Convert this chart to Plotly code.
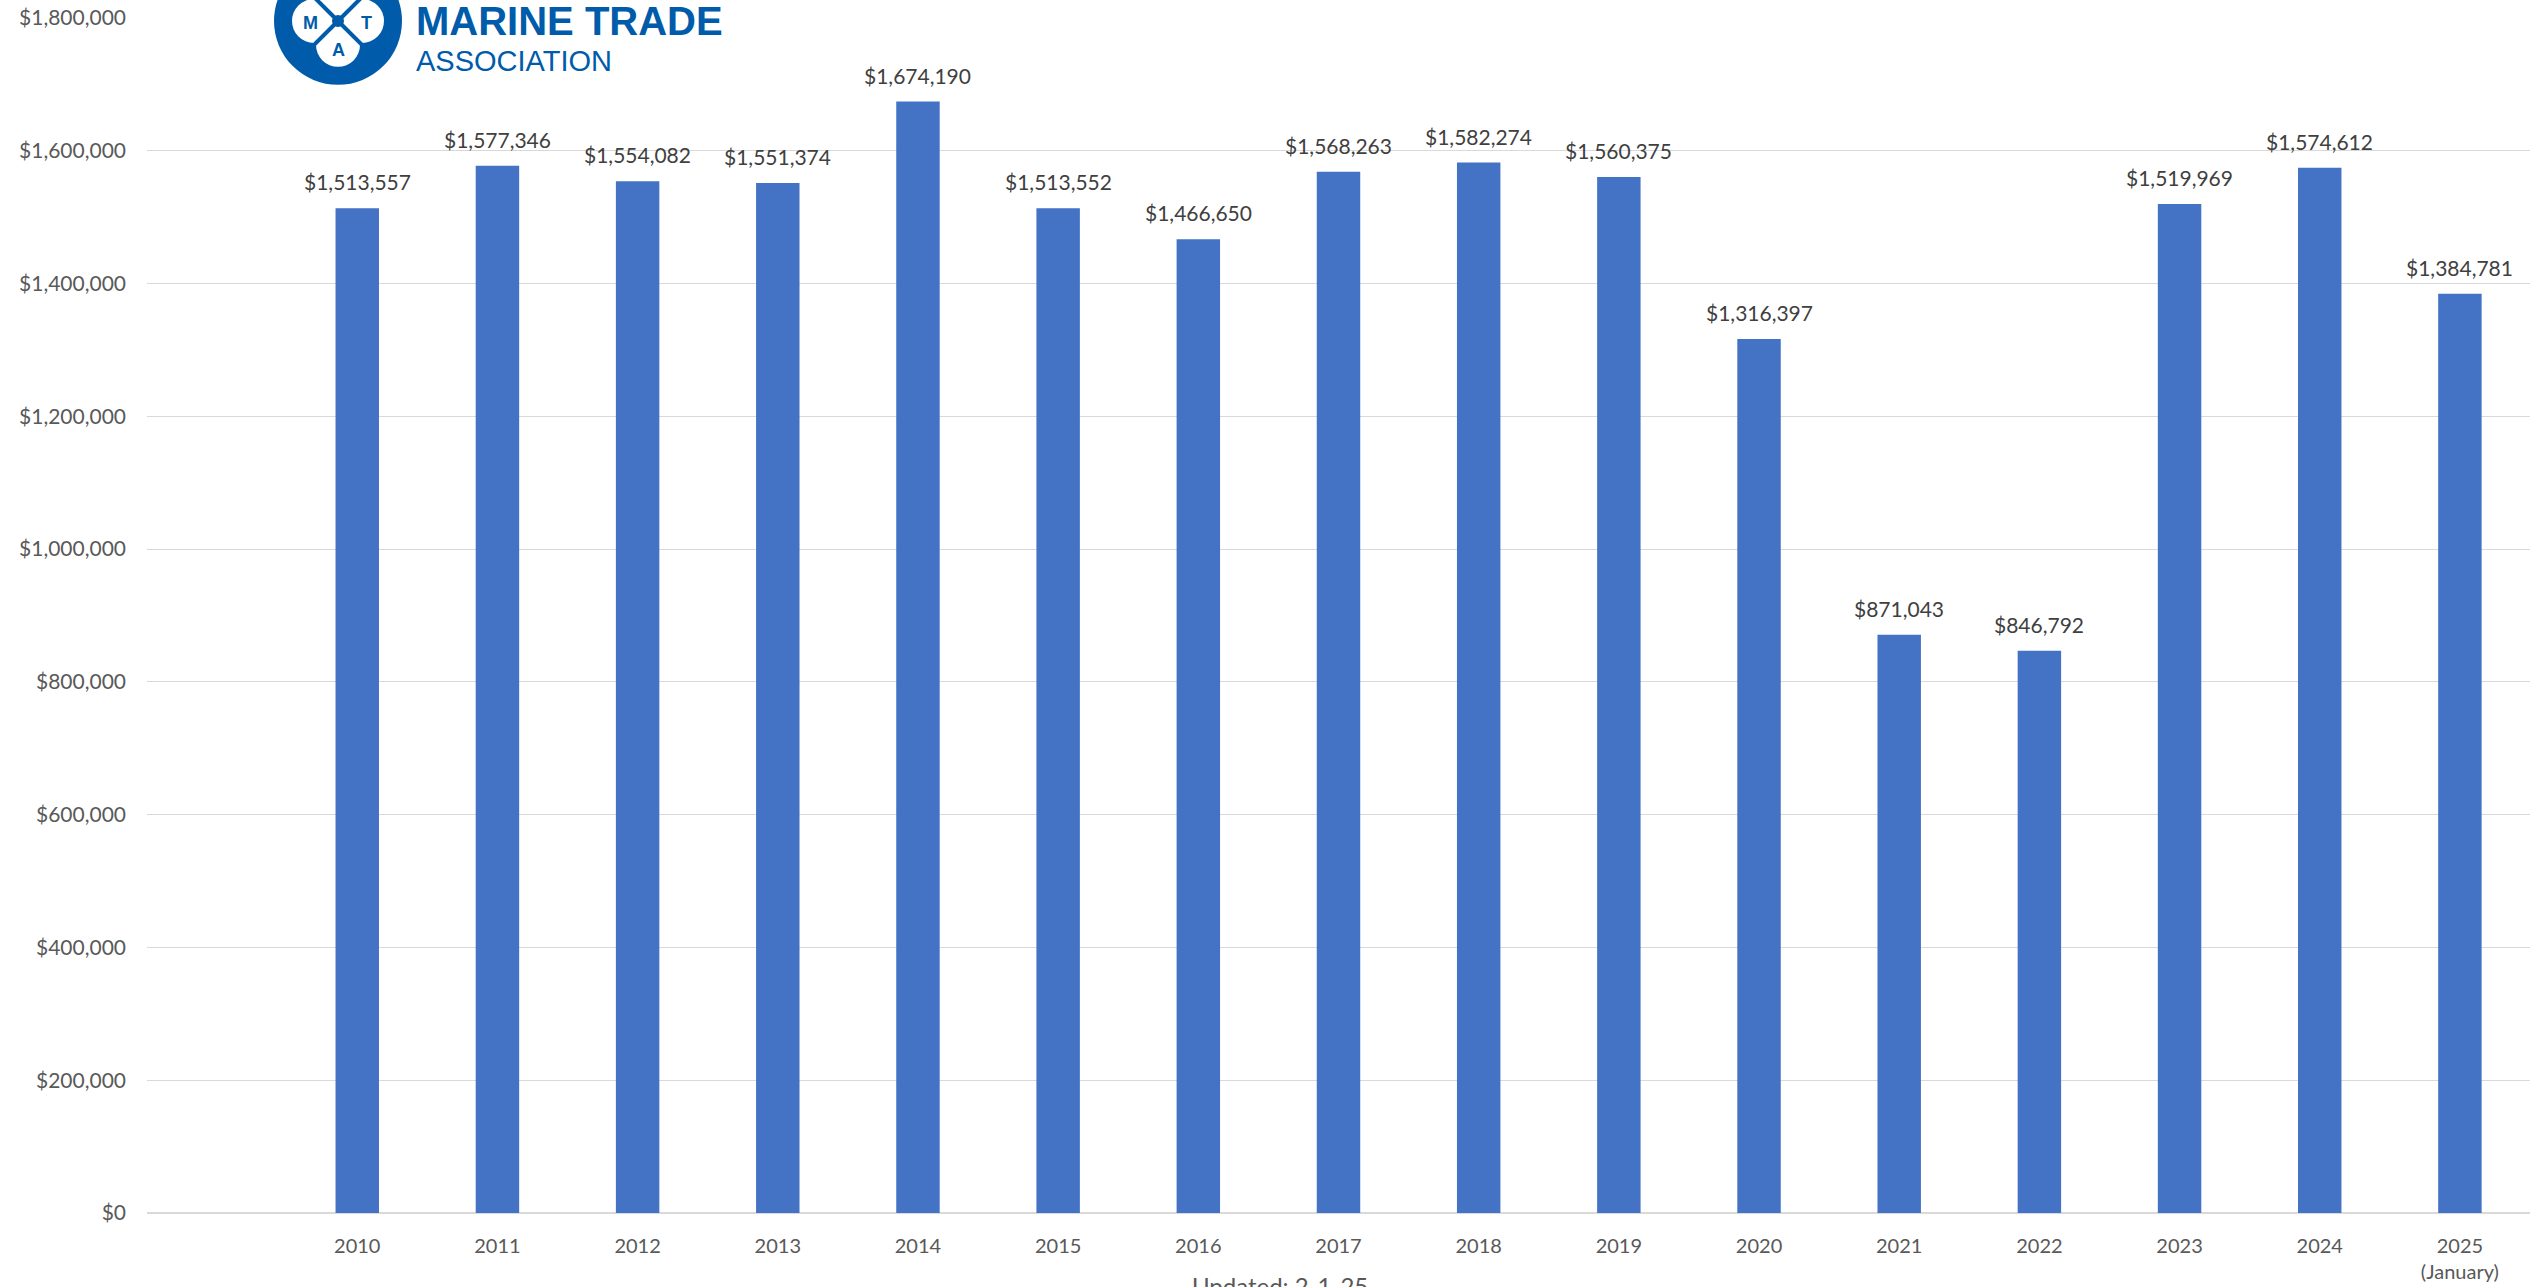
import plotly.graph_objects as go

# ---- data ----
years = [2010, 2011, 2012, 2013, 2014, 2015, 2016, 2017, 2018, 2019,
         2020, 2021, 2022, 2023, 2024, 2025]
year_labels = ["2010", "2011", "2012", "2013", "2014", "2015", "2016", "2017",
               "2018", "2019", "2020", "2021", "2022", "2023", "2024",
               "2025<br>(January)"]
values = [1513557, 1577346, 1554082, 1551374, 1674190, 1513552, 1466650,
          1568263, 1582274, 1560375, 1316397, 871043, 846792, 1519969,
          1574612, 1384781]
y_ticks = [0, 200000, 400000, 600000, 800000, 1000000, 1200000, 1400000,
           1600000, 1800000]
y_tick_labels = [f"${v:,}" for v in y_ticks]
updated_note = "Updated: 2-1-25"

# ---- layout geometry ----
W, H = 2534, 1287
ML, MR, MT, MB = 147, 4, 17, 71
PW, PH = W - ML - MR, H - MT - MB

def px(x):
    return (x - ML) / PW

def py(y):
    return (H - MB - y) / PH

FONT = "Lato, 'Open Sans', sans-serif"
BLUE = "#4472C4"
LOGO = "#005BAA"

fig = go.Figure()
fig.add_trace(go.Bar(
    x=years, y=values, width=0.31,
    marker=dict(color=BLUE, line=dict(width=0)),
    hoverinfo="skip", showlegend=False,
))

annotations = []
for yr, v in zip(years, values):
    annotations.append(dict(
        x=yr, y=v, xref="x", yref="y", text=f"${v:,}",
        showarrow=False, yanchor="bottom", yshift=12,
        font=dict(family=FONT, size=21, color="#404040"),
    ))

annotations.append(dict(
    x=px(1280), y=py(1272), xref="paper", yref="paper", text=updated_note,
    showarrow=False, xanchor="center", yanchor="top",
    font=dict(family=FONT, size=24, color="#595959"),
))

# logo text
annotations.append(dict(
    x=px(414), y=py(-4), xref="paper", yref="paper", text="<b>MARINE TRADE</b>",
    showarrow=False, xanchor="left", yanchor="top",
    font=dict(family="'Liberation Sans Narrow', 'Liberation Sans', Arial, sans-serif", size=40, color=LOGO),
))
annotations.append(dict(
    x=px(414), y=py(42), xref="paper", yref="paper", text="ASSOCIATION",
    showarrow=False, xanchor="left", yanchor="top",
    font=dict(family="'Liberation Sans Narrow', 'Liberation Sans', Arial, sans-serif", size=29, color=LOGO),
))
for letter, lx, ly in [("M", 310, 22), ("T", 366, 22), ("A", 338, 49)]:
    annotations.append(dict(
        x=px(lx), y=py(ly), xref="paper", yref="paper", text=f"<b>{letter}</b>",
        showarrow=False, xanchor="center", yanchor="middle",
        font=dict(family="'Liberation Sans', Arial, sans-serif", size=18, color=LOGO),
    ))

# logo icon shapes
cx, cy, R = 338, 20, 64
shapes = [dict(type="circle", xref="paper", yref="paper",
               x0=px(cx - R), x1=px(cx + R), y0=py(cy + R), y1=py(cy - R),
               fillcolor=LOGO, line=dict(width=0), layer="above")]
off, pr = 24, 22
for dx, dy in [(0, -off), (0, off), (-off, 0), (off, 0)]:
    shapes.append(dict(type="circle", xref="paper", yref="paper",
                       x0=px(cx + dx - pr), x1=px(cx + dx + pr),
                       y0=py(cy + dy + pr), y1=py(cy + dy - pr),
                       fillcolor="white", line=dict(width=0), layer="above"))
for sx, sy in [(1, 1), (1, -1), (-1, 1), (-1, -1)]:
    shapes.append(dict(type="line", xref="paper", yref="paper",
                       x0=px(cx), y0=py(cy), x1=px(cx + sx * 30), y1=py(cy + sy * 30),
                       line=dict(color=LOGO, width=4), layer="above"))
shapes.append(dict(type="circle", xref="paper", yref="paper",
                   x0=px(cx - 6), x1=px(cx + 6), y0=py(cy + 6), y1=py(cy - 6),
                   fillcolor=LOGO, line=dict(width=0), layer="above"))

fig.update_layout(
    width=W, height=H,
    margin=dict(l=ML, r=MR, t=MT, b=MB, pad=0),
    paper_bgcolor="white", plot_bgcolor="white",
    xaxis=dict(range=[2008.5, 2025.5], tickmode="array", tickvals=years,
               ticktext=year_labels, showgrid=False, zeroline=False,
               showline=False, ticks="", ticklabelstandoff=19,
               tickfont=dict(family=FONT, size=20, color="#595959"),
               fixedrange=True),
    yaxis=dict(range=[0, 1800000], tickmode="array", tickvals=y_ticks,
               ticktext=y_tick_labels, showgrid=True,
               gridcolor="#d9d9d9", gridwidth=1.3, zeroline=True,
               zerolinecolor="#d9d9d9", zerolinewidth=2, showline=False,
               ticks="", ticklabelstandoff=20,
               tickfont=dict(family=FONT, size=21, color="#595959"),
               fixedrange=True),
    annotations=annotations,
    shapes=shapes,
)

fig.write_html("out.html")
